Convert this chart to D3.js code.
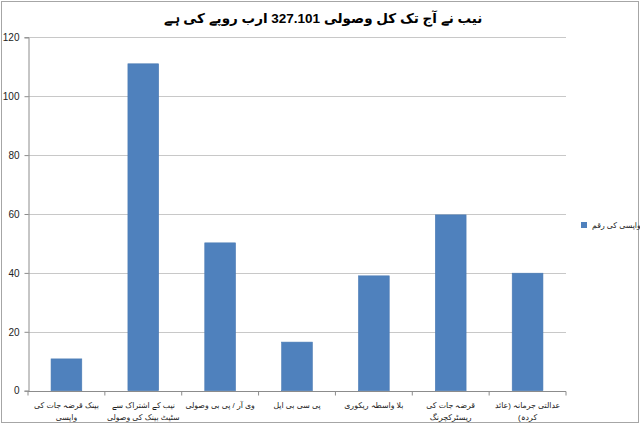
<!DOCTYPE html>
<html><head><meta charset="utf-8">
<script src="https://cdn.jsdelivr.net/npm/d3@7"></script>
<style>body{margin:0;background:#fff}svg{display:block}</style>
</head><body>
<svg id="c" width="640" height="424"></svg>
<script>
const title = "نیب نے آج تک کل وصولی 327.101 ارب روپے کی ہے";
const categories = [
  ["بینک قرضہ جات کی", "واپسی"],
  ["نیب کے اشتراک سے", "سٹیٹ بینک کی وصولی"],
  ["وی آر / پی بی وصولی"],
  ["پی سی بی ایل"],
  ["بلا واسطہ ریکوری"],
  ["قرضہ جات کی", "ریسٹرکچرنگ"],
  ["عدالتی جرمانہ (عائد", "کردہ)"]
];
const seriesName = "واپسی کی رقم";
const values = [10.8, 111.0, 50.2, 16.5, 39.0, 59.7, 39.9];
const yTicks = [0, 20, 40, 60, 80, 100, 120];

const svg = d3.select("#c");
const font = "'Liberation Sans', Arial, 'DejaVu Sans', sans-serif";
const L = 28, R = 566, T = 37.3, B = 390.7;

svg.append("rect").attr("x", 1.5).attr("y", 1.5).attr("width", 637).attr("height", 421)
  .attr("fill", "#fff").attr("stroke", "#a6a6a6").attr("stroke-width", 1);

const x = d3.scaleBand().domain(d3.range(categories.length)).range([L, R])
  .paddingInner(0.6).paddingOuter(0.3);
const y = d3.scaleLinear().domain([0, 120]).range([B, T]);

// gridlines
svg.append("g").selectAll("line").data(yTicks.filter(d => d > 0)).join("line")
  .attr("x1", L).attr("x2", R).attr("y1", d => Math.round(y(d)) + 0.5).attr("y2", d => Math.round(y(d)) + 0.5)
  .attr("stroke", "#c8c8c8").attr("stroke-width", 1.2);

// bars
svg.append("g").selectAll("rect").data(values).join("rect")
  .attr("x", (d, i) => x(i)).attr("width", x.bandwidth())
  .attr("y", d => y(d)).attr("height", d => B - y(d))
  .attr("fill", "#4f81bd").attr("stroke", "#4a7ab3").attr("stroke-width", 0.6);

// y axis
const ya = svg.append("g").attr("transform", `translate(${L + 0.5},0)`)
  .call(d3.axisLeft(y).tickValues(yTicks).tickSize(4).tickPadding(5));
ya.select(".domain").attr("stroke", "#8c8c8c");
ya.selectAll(".tick line").attr("stroke", "#8c8c8c");
ya.selectAll("text").attr("font-family", font).attr("font-size", 10).attr("fill", "#222");

// x axis
const xa = svg.append("g").attr("transform", `translate(0,${Math.round(B) + 0.5})`);
xa.append("line").attr("x1", L).attr("x2", R).attr("stroke", "#8c8c8c");
const bounds = d3.range(categories.length + 1).map(i => L + i * x.step());
xa.selectAll("line.t").data(bounds).join("line").attr("class", "t")
  .attr("x1", d => d).attr("x2", d => d).attr("y1", 0).attr("y2", 4).attr("stroke", "#8c8c8c");
categories.forEach((lines, i) => {
  const cx = x(i) + x.bandwidth() / 2;
  lines.forEach((t, j) => {
    xa.append("text").attr("x", cx).attr("y", 16 + j * 12)
      .attr("text-anchor", "middle").attr("direction", "rtl")
      .attr("font-family", font).attr("font-size", 7.8).attr("fill", "#222").text(t);
  });
});

// title
svg.append("text").attr("x", 323).attr("y", 23).attr("text-anchor", "middle")
  .attr("direction", "rtl")
  .attr("font-family", font).attr("font-size", 13.5).attr("font-weight", "bold").attr("fill", "#000")
  .text(title);

// legend
svg.append("rect").attr("x", 581).attr("y", 222).attr("width", 6).attr("height", 6).attr("fill", "#4f81bd");
const lt = svg.append("text").attr("y", 228).attr("text-anchor", "middle").attr("direction", "rtl")
  .attr("font-family", font).attr("font-size", 7.8).attr("fill", "#222").text(seriesName);
const w = lt.node().getComputedTextLength();
lt.attr("x", 592 + w / 2);
</script>
</body></html>
